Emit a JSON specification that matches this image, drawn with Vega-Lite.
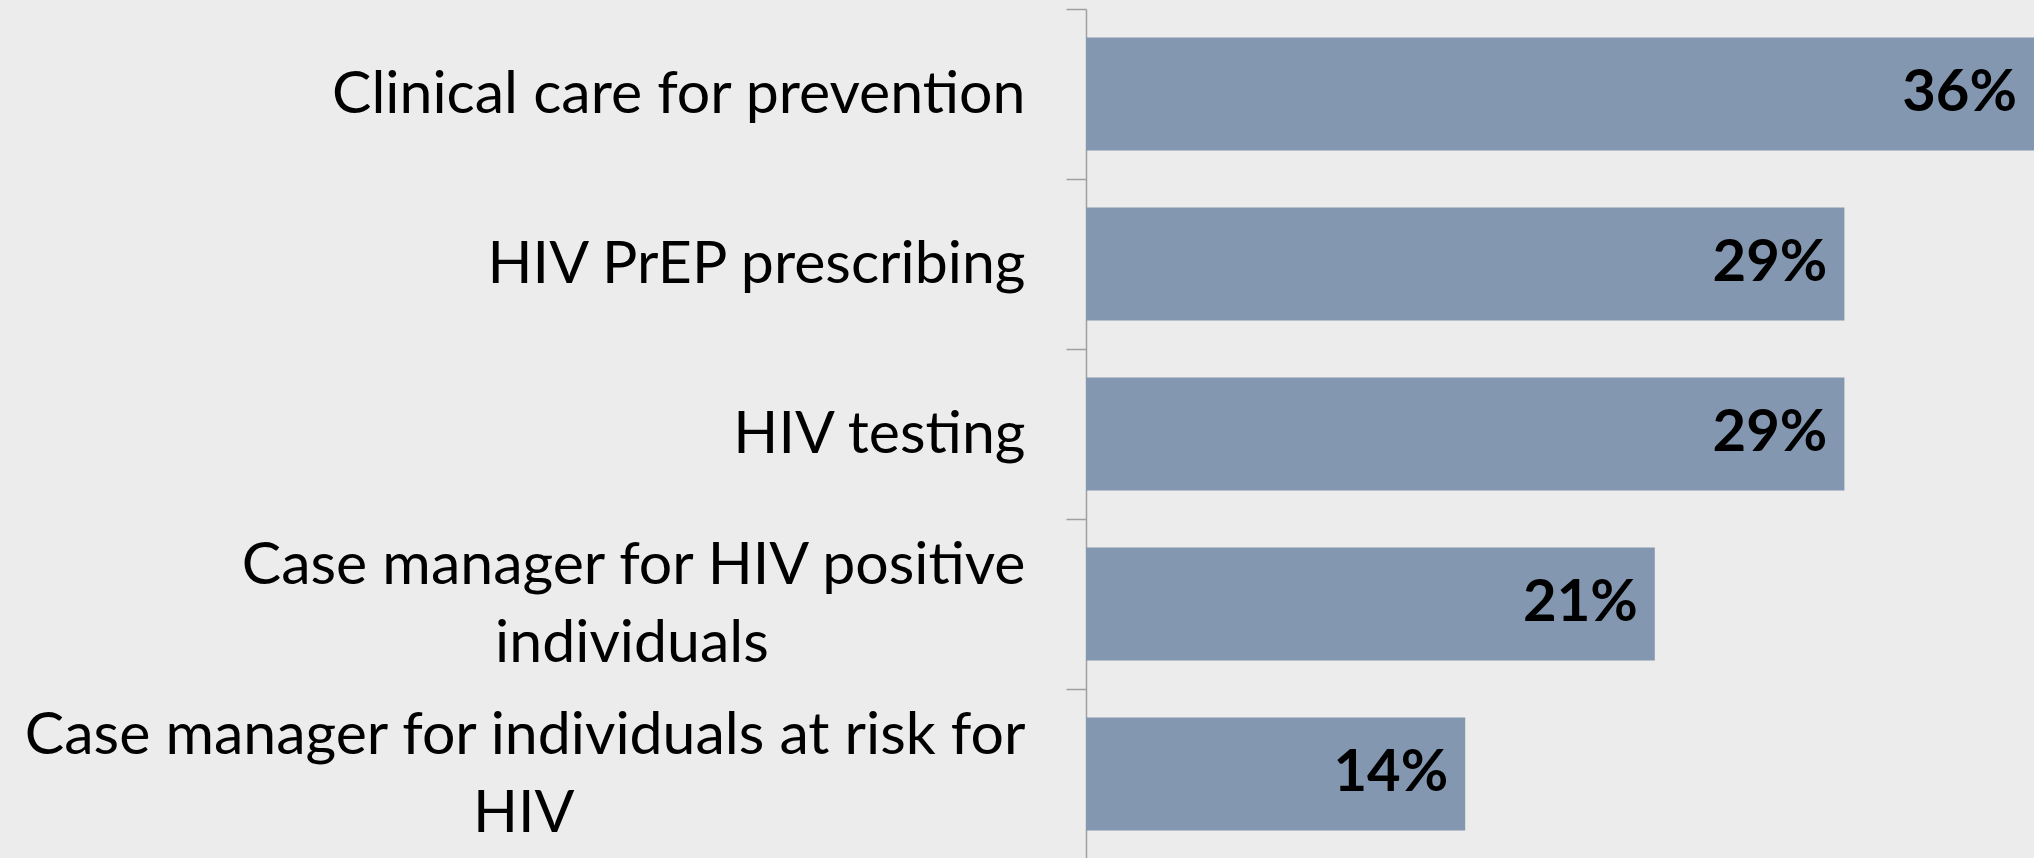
{
  "$schema": "https://vega.github.io/schema/vega-lite/v6.json",
  "width": 948,
  "height": 850,
  "autosize": {"type": "none"},
  "padding": {"left": 1086, "top": 9, "right": 0, "bottom": 0},
  "background": "#ECECEC",
  "config": {"view": {"stroke": null}},
  "data": {"values": [
    {"category": "Clinical care for prevention", "share": 0.357142857},
    {"category": "HIV PrEP prescribing", "share": 0.285714286},
    {"category": "HIV testing", "share": 0.285714286},
    {"category": "Case manager for HIV positive individuals", "share": 0.214285714},
    {"category": "Case manager for individuals at risk for HIV", "share": 0.142857143}
  ]},
  "encoding": {
    "y": {
      "field": "category",
      "type": "nominal",
      "sort": null,
      "scale": {"paddingInner": 0.335, "paddingOuter": 0.1675},
      "axis": {
        "title": null,
        "domainColor": "#A0A0A0",
        "domainWidth": 1.5,
        "tickColor": "#A0A0A0",
        "tickWidth": 1.5,
        "tickSize": 20,
        "bandPosition": 0,
        "tickOffset": -28.5,
        "labelFont": "Lato",
        "labelFontSize": 59,
        "labelColor": "#000000",
        "labelPadding": 41,
        "labelLimit": 1100,
        "labelLineHeight": 78,
        "labelOffset": {"condition": {"test": "indexof(datum.value, 'Case manager') == 0", "value": -10.5}, "value": 28.5},
        "labelExpr": "datum.value == 'Case manager for HIV positive individuals' ? ['Case manager for HIV positive', 'individuals\u00a0\u00a0\u00a0\u00a0\u00a0\u00a0\u00a0\u00a0\u00a0\u00a0\u00a0\u00a0\u00a0\u00a0\u00a0\u00a0\u00a0\u200b'] : datum.value == 'Case manager for individuals at risk for HIV' ? ['Case manager for individuals at risk for', 'HIV\u00a0\u00a0\u00a0\u00a0\u00a0\u00a0\u00a0\u00a0\u00a0\u00a0\u00a0\u00a0\u00a0\u00a0\u00a0\u00a0\u00a0\u00a0\u00a0\u00a0\u00a0\u00a0\u00a0\u00a0\u00a0\u00a0\u00a0\u00a0\u00a0\u00a0\u200b'] : datum.value"
      }
    },
    "x": {
      "field": "share",
      "type": "quantitative",
      "scale": {"domain": [0, 0.357142857], "nice": false, "zero": true},
      "axis": null
    }
  },
  "layer": [
    {"mark": {"type": "bar", "color": "#8497B0"}},
    {
      "mark": {"type": "text", "align": "right", "baseline": "middle", "dx": -17, "font": "Lato", "fontSize": 58, "fontWeight": "bold", "color": "#000000"},
      "encoding": {"text": {"field": "share", "type": "quantitative", "format": ".0%"}}
    }
  ]
}
